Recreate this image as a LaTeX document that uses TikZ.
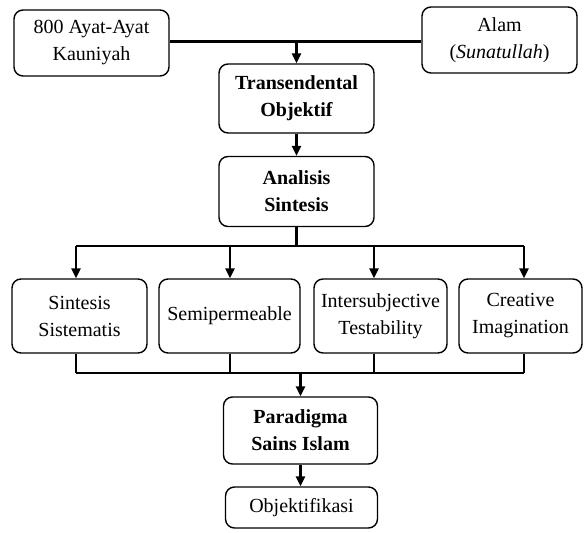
\documentclass[tikz,border=0pt]{standalone}
\usepackage{fontspec}
\setmainfont{Liberation Serif}
\usetikzlibrary{arrows.meta}
\begin{document}
\begin{tikzpicture}[x=1pt,y=-1pt,
  box/.style={draw, line width=1.4pt, rounded corners=9pt, fill=white,
    align=center, inner sep=0pt, font=\fontsize{20}{27}\selectfont},
  boldbox/.style={box, font=\fontsize{20}{27}\selectfont\bfseries},
  link/.style={line width=2.6pt},
  flow/.style={link, -{Triangle[length=10pt,width=9pt]}}]
\useasboundingbox (0,0) rectangle (585,532);

% sources
\node[box, minimum width=155pt, minimum height=66pt] (src1) at (91.5,43) {800 Ayat-Ayat\\Kauniyah};
\node[box, minimum width=155pt, minimum height=66pt] (src2) at (499.5,40) {Alam\\(\textit{Sunatullah})};

% central chain
\node[boldbox, minimum width=155pt, minimum height=69pt] (trans) at (296.5,98.5) {Transendental\\Objektif};
\node[boldbox, minimum width=155pt, minimum height=70pt] (anal) at (296.5,191.5) {Analisis\\Sintesis};

% four components
\node[box, minimum width=135pt, minimum height=74pt] (c1) at (79.5,316) {Sintesis\\Sistematis};
\node[box, minimum width=141pt, minimum height=74pt] (c2) at (229.5,316) {Semipermeable};
\node[box, minimum width=133pt, minimum height=74pt] (c3) at (380.5,316) {Intersubjective\\Testability};
\node[box, minimum width=123pt, minimum height=74pt] (c4) at (520.5,316) {Creative\\Imagination};

% result
\node[boldbox, minimum width=154pt, minimum height=67pt] (para) at (300.5,430.5) {Paradigma\\Sains Islam};
\node[box, minimum width=152pt, minimum height=41pt] (obj) at (301.5,507.5) {Objektifikasi};

% top junction
\coordinate (topj) at (296.5,41.5);
\draw[link] (src1.east |- topj) -- (src2.west |- topj);
\draw[flow] (topj) -- (trans.north);
\draw[flow] (trans.south) -- (anal.north);

% upper bus
\coordinate (u1) at (76,246);
\coordinate (u2) at (230,246);
\coordinate (u3) at (374,246);
\coordinate (u4) at (524,246);
\draw[link] (anal.south) -- (anal.south |- u1);
\draw[link] (u1) -- (u4);
\draw[flow] (u1) -- (u1 |- c1.north);
\draw[flow] (u2) -- (u2 |- c2.north);
\draw[flow] (u3) -- (u3 |- c3.north);
\draw[flow] (u4) -- (u4 |- c4.north);

% lower bus
\coordinate (d1) at (76,373);
\coordinate (d2) at (230,373);
\coordinate (d3) at (374,373);
\coordinate (d4) at (524,373);
\draw[link] (d1 |- c1.south) -- (d1);
\draw[link] (d2 |- c2.south) -- (d2);
\draw[link] (d3 |- c3.south) -- (d3);
\draw[link] (d4 |- c4.south) -- (d4);
\draw[link] (d1) -- (d4);
\draw[flow] (para.north |- d1) -- (para.north);
\draw[flow] (para.south) -- (para.south |- obj.north);
\end{tikzpicture}
\end{document}
